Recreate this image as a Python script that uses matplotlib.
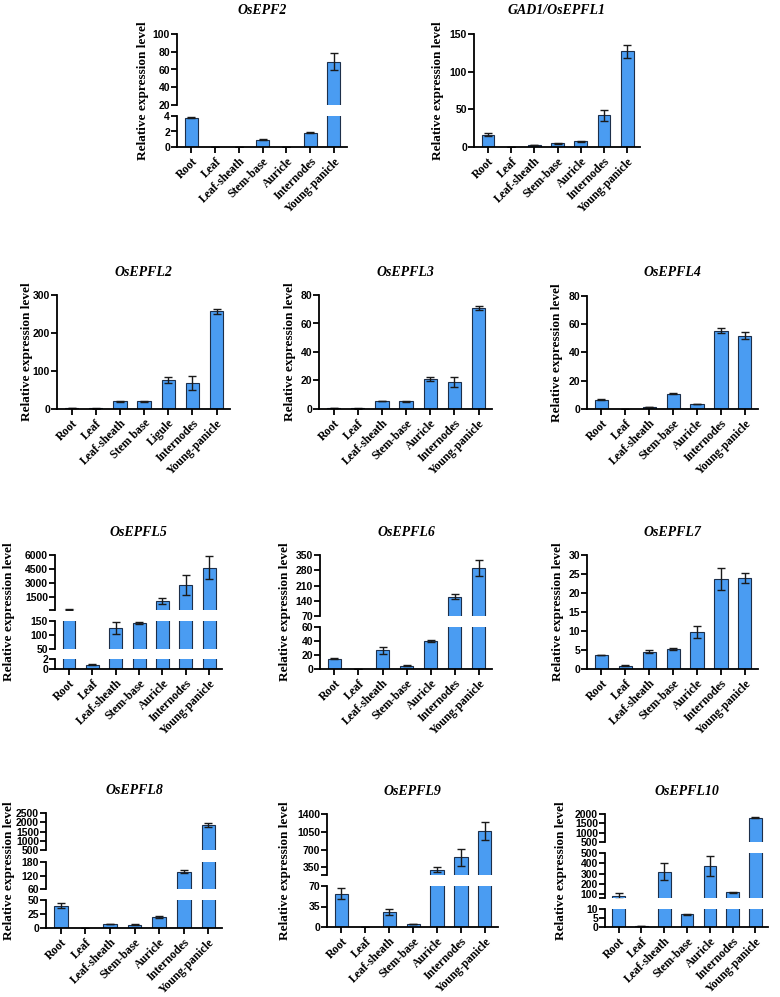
import matplotlib
matplotlib.use("Agg")
import matplotlib.pyplot as plt
import numpy as np

W, H = 780, 997

tissues = ["Root", "Leaf", "Leaf-sheath", "Stem-base", "Auricle", "Internodes", "Young-panicle"]
tissues_l2 = ["Root", "Leaf", "Leaf-sheath", "Stem base", "Ligule", "Internodes", "Young-panicle"]

# values (mean, error)
epf2 = [3.8, 0.02, 0.02, 0.95, 0.02, 1.85, 69]
epf2_err = [0.05, 0.0, 0.0, 0.05, 0.0, 0.06, 10]
gad1 = [16, 0.3, 2.5, 5, 7.5, 42, 127]
gad1_err = [2, 0.1, 0.5, 0.4, 0.4, 7, 9]
epfl2 = [2, 1.5, 20, 20, 76, 69, 257]
epfl2_err = [0.3, 0.2, 1.5, 1.5, 7, 19, 7]
epfl3 = [0.6, 0.4, 5.6, 5.5, 21, 19, 71]
epfl3_err = [0.1, 0.1, 0.3, 0.3, 1.3, 3.8, 1.5]
epfl4 = [6.5, 0.3, 1.5, 10.8, 3.5, 55.5, 52]
epfl4_err = [0.3, 0.05, 0.2, 0.4, 0.3, 1.5, 2.2]
epfl5 = [200, 0.9, 124, 142, 1100, 2800, 4660]
epfl5_err = [20, 0.05, 21, 3, 280, 1090, 1230]
epfl6 = [15, 0.2, 27, 5, 40, 159, 290]
epfl6_err = [0.8, 0.05, 5, 0.5, 2, 11, 36]
epfl7 = [3.7, 0.9, 4.6, 5.3, 9.8, 23.8, 23.9]
epfl7_err = [0.1, 0.05, 0.3, 0.3, 1.6, 2.9, 1.3]
epfl8 = [40, 0.3, 7, 6, 20, 136, 1850]
epfl8_err = [4, 0.05, 0.6, 0.5, 1.5, 7, 100]
epfl9 = [57, 0.3, 25, 5, 305, 545, 1073]
epfl9_err = [9, 0.05, 5, 0.5, 50, 165, 175]
epfl10 = [85, 0.5, 320, 7, 375, 122, 1800]
epfl10_err = [25, 0.05, 85, 0.2, 95, 5, 40]

bar_color = "#4a9cf2"
edge_color = "#1d2f4a"
sans = "Liberation Sans"
serif = "Liberation Serif"

fig = plt.figure(figsize=(W / 100, H / 100), dpi=100)


def add_axes_px(left, top, right, bottom):
    return fig.add_axes([left / W, 1 - bottom / H, (right - left) / W, (bottom - top) / H])


def draw_panel(title, cats, vals, errs, x0, x1, segs, ylab_x):
    x = np.arange(len(cats))
    vals = np.asarray(vals, dtype=float)
    errs = np.asarray(errs, dtype=float)
    for k, (top, bottom, lo, hi, ticks, labels) in enumerate(segs):
        ax = add_axes_px(x0, top, x1, bottom)
        # only bars that reach into this segment
        reach = vals > lo
        ax.bar(x[reach], vals[reach], width=0.55, color=bar_color,
               edgecolor=edge_color, linewidth=0.8)
        # error bars only for bars whose top falls inside this segment
        inside = (vals >= lo) & (vals <= hi)
        if inside.any():
            ax.errorbar(x[inside], vals[inside], yerr=errs[inside], fmt="none",
                        ecolor="#1a1a1a", elinewidth=1, capsize=3, capthick=1)
        ax.set_xlim(-0.6, 6.55)
        ax.set_ylim(lo, hi)
        ax.set_yticks(ticks)
        ax.set_yticklabels(labels, fontfamily=sans, fontweight="bold", fontsize=7.5)
        ax.patch.set_alpha(0)
        for s in ["top", "right"]:
            ax.spines[s].set_visible(False)
        ax.spines["left"].set_linewidth(1.3)
        ax.tick_params(axis="y", length=4, width=1.3, pad=1)
        if k == len(segs) - 1:
            ax.spines["bottom"].set_linewidth(1.3)
            ax.set_xticks(x)
            ax.set_xticklabels(cats, rotation=45, ha="right", rotation_mode="anchor",
                               fontfamily=serif, fontweight="bold", fontsize=8.5)
            ax.tick_params(axis="x", length=4, width=1.3, pad=2)
        else:
            ax.spines["bottom"].set_visible(False)
            ax.set_xticks([])
    top_all = segs[0][0]
    bot_all = segs[-1][1]
    fig.text(ylab_x / W, 1 - (top_all + bot_all) / 2 / H, "Relative expression level",
             rotation=90, ha="center", va="center", fontfamily=serif,
             fontweight="bold", fontsize=9.5)
    fig.text((x0 + x1) / 2 / W, 1 - (top_all - 23) / H, title, ha="center", va="center",
             fontfamily=serif, fontweight="bold", fontstyle="italic", fontsize=10)


def lab(ticks):
    return [str(t) for t in ticks]


draw_panel("OsEPF2", tissues, epf2, epf2_err, 177, 347,
           [(34, 105, 20, 100, [20, 40, 60, 80, 100], lab([20, 40, 60, 80, 100])),
            (116, 147, 0, 4, [0, 2, 4], lab([0, 2, 4]))], 143)
draw_panel("GAD1/OsEPFL1", tissues, gad1, gad1_err, 474, 640,
           [(34, 147, 0, 150, [0, 50, 100, 150], lab([0, 50, 100, 150]))], 438)

draw_panel("OsEPFL2", tissues_l2, epfl2, epfl2_err, 57, 230,
           [(295, 409, 0, 300, [0, 100, 200, 300], lab([0, 100, 200, 300]))], 27)
draw_panel("OsEPFL3", tissues, epfl3, epfl3_err, 319, 492,
           [(295, 409, 0, 80, [0, 20, 40, 60, 80], lab([0, 20, 40, 60, 80]))], 290)
draw_panel("OsEPFL4", tissues, epfl4, epfl4_err, 587, 758,
           [(296, 409, 0, 80, [0, 20, 40, 60, 80], lab([0, 20, 40, 60, 80]))], 557)

draw_panel("OsEPFL5", tissues, epfl5, epfl5_err, 55, 222,
           [(555, 610, 150, 6000, [150, 1500, 3000, 4500, 6000], ["", "1500", "3000", "4500", "6000"]),
            (621, 649, 50, 150, [50, 100, 150], lab([50, 100, 150])),
            (659, 669, 0, 2, [0, 2], lab([0, 2]))], 9)
draw_panel("OsEPFL6", tissues, epfl6, epfl6_err, 320, 492,
           [(555, 616, 70, 350, [70, 140, 210, 280, 350], lab([70, 140, 210, 280, 350])),
            (627, 669, 0, 60, [0, 20, 40, 60], lab([0, 20, 40, 60]))], 285)
draw_panel("OsEPFL7", tissues, epfl7, epfl7_err, 587, 758,
           [(555, 669, 0, 30, [0, 5, 10, 15, 20, 25, 30], lab([0, 5, 10, 15, 20, 25, 30]))], 558)

draw_panel("OsEPFL8", tissues, epfl8, epfl8_err, 46, 222,
           [(813, 850, 500, 2500, [500, 1000, 1500, 2000, 2500], lab([500, 1000, 1500, 2000, 2500])),
            (862, 889, 60, 180, [60, 120, 180], lab([60, 120, 180])),
            (900, 928, 0, 50, [0, 25, 50], lab([0, 25, 50]))], 9)
draw_panel("OsEPFL9", tissues, epfl9, epfl9_err, 327, 498,
           [(814, 875, 200, 1400, [200, 350, 700, 1050, 1400], ["", "350", "700", "1050", "1400"]),
            (886, 927, 0, 70, [0, 35, 70], lab([0, 35, 70]))], 285)
draw_panel("OsEPFL10", tissues, epfl10, epfl10_err, 605, 768,
           [(814, 842, 500, 2000, [500, 1000, 1500, 2000], lab([500, 1000, 1500, 2000])),
            (853, 898, 65, 500, [65, 100, 200, 300, 400, 500], ["", "100", "200", "300", "400", "500"]),
            (909, 927, 0, 10, [0, 5, 10], lab([0, 5, 10]))], 561)

fig.savefig("out.png", dpi=100, facecolor="white")
